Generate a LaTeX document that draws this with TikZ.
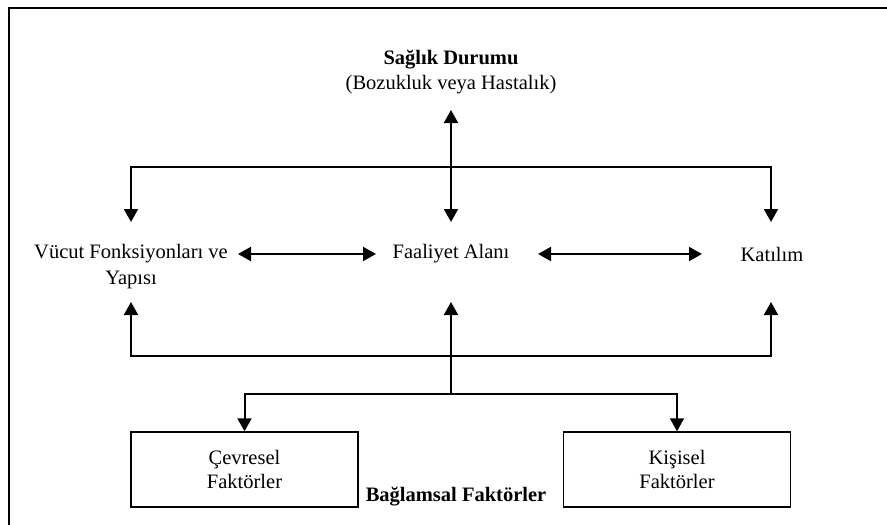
\documentclass[tikz,border=0pt]{standalone}
\usepackage{fontspec}
\setmainfont{Liberation Serif}
\usetikzlibrary{arrows.meta,calc}
\begin{document}
\begin{tikzpicture}[x=1pt,y=-1pt,
  lbl/.style={inner sep=0pt,align=center,font=\fontsize{20.5}{25}\selectfont},
  factorbox/.style={draw,line width=1.5pt,minimum width=227pt,minimum height=75pt,align=center,inner sep=0pt,font=\fontsize{20.5}{24}\selectfont},
  conn/.style={line width=2pt,-{Triangle[length=13pt,width=14pt]}},
  dconn/.style={line width=2pt,{Triangle[length=13pt,width=14pt]}-{Triangle[length=13pt,width=14pt]}},
  frameline/.style={line width=2pt}]
\useasboundingbox (0,0) rectangle (887,525);
\draw[frameline] (887,8) -- (9,8) -- (9,525);

\node[lbl,font=\fontsize{20.5}{25}\selectfont] (health) at (451,72) {\textbf{Sağlık Durumu}\\(Bozukluk veya Hastalık)};
\node[lbl,font=\fontsize{20.5}{26}\selectfont] (body) at (131,267) {Vücut Fonksiyonları ve\\Yapısı};
\node[lbl] (act) at (451,254) {Faaliyet Alanı};
\node[lbl] (part) at (772,254) {Katılım};
\node[factorbox] (env) at (244.5,469.5) {Çevresel\\Faktörler};
\node[factorbox] (pers) at (677,469.5) {Kişisel\\Faktörler};
\node[lbl] (ctx) at (456,497) {\textbf{Bağlamsal Faktörler}};

\coordinate (tc) at (451,167);
\coordinate (bc) at (451,356);
\coordinate (br) at (451,394);

% health <-> activity
\draw[dconn] ($(health)+(0,38)$) -- ($(act)+(0,-32)$);
% top distribution
\draw[conn] (tc) -| ($(body)+(0,-45)$);
\draw[conn] (tc) -| ($(part)+(-1,-32)$);
% horizontal double arrows
\draw[dconn] ($(body)+(107,-13)$) -- ($(act)+(-75,0)$);
\draw[dconn] ($(act)+(87,0)$) -- ($(part)+(-70,0)$);
% bottom return
\draw[conn] (bc) -| ($(body)+(0,35)$);
\draw[conn] (bc) -| ($(part)+(-1,48)$);
\draw[conn] (br) -- ($(act)+(0,48)$);
% contextual factors
\draw[conn] (br) -| (env.north);
\draw[conn] (br) -| (pers.north);
\end{tikzpicture}
\end{document}
